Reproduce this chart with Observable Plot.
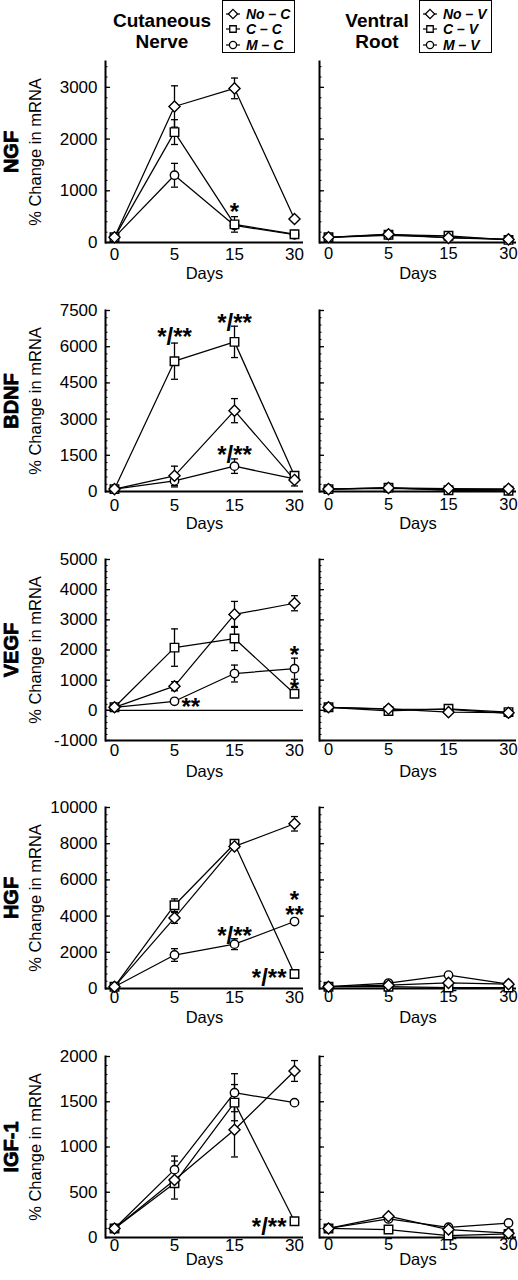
<!DOCTYPE html>
<html>
<head>
<meta charset="utf-8">
<script src="https://cdn.jsdelivr.net/npm/d3@7"></script>
<script src="https://cdn.jsdelivr.net/npm/@observablehq/plot@0.6"></script>
<style>
  html,body{margin:0;padding:0;background:#fff;}
  body{width:518px;height:1280px;overflow:hidden;font-family:"Liberation Sans",Arial,Helvetica,sans-serif;color:#000;}
  #fig{position:relative;width:518px;height:1280px;overflow:hidden;}
  .coltitle{position:absolute;top:10px;width:130px;text-align:center;font-weight:bold;font-size:19px;line-height:21px;}
  .legend{position:absolute;top:0;height:53px;width:73px;border:1.5px solid #000;box-sizing:border-box;background:#fff;}
  .legrow{position:absolute;left:2px;height:15px;display:flex;align-items:center;}
  .legrow span{font-weight:bold;font-style:italic;font-size:14px;margin-left:5px;white-space:pre;}
  .panel{position:absolute;}
  .panel svg{overflow:visible;display:block;}
</style>
</head>
<body>
<div id="fig"></div>
<script>
// ---------- text ----------
const days = [0, 5, 15, 30];
const genes = ["NGF", "BDNF", "VEGF", "HGF", "IGF-1"];
const columnTitles = [["Cutaneous", "Nerve"], ["Ventral", "Root"]];
const nerveSeries = ["No – C", "C – C", "M – C"];
const rootSeries = ["No – V", "C – V", "M – V"];
const yLabel = "% Change in mRNA";
const xLabel = "Days";

// ---------- y axes ----------
const ngfDomain = [0, 3500];
const ngfTicks = [0, 1000, 2000, 3000];
const bdnfDomain = [0, 7500];
const bdnfTicks = [0, 1500, 3000, 4500, 6000, 7500];
const vegfDomain = [-1000, 5000];
const vegfTicks = [-1000, 0, 1000, 2000, 3000, 4000, 5000];
const hgfDomain = [0, 10000];
const hgfTicks = [0, 2000, 4000, 6000, 8000, 10000];
const igfDomain = [0, 2000];
const igfTicks = [0, 500, 1000, 1500, 2000];

// ---------- NGF ----------
const ngfNoC = [100, 2630, 2980, 455];
const ngfNoCErr = [0, 400, 200, 0];
const ngfCC = [100, 2135, 350, 160];
const ngfCCErr = [0, 240, 150, 0];
const ngfMC = [100, 1300, 330, 150];
const ngfMCErr = [0, 230, 0, 0];
const ngfNoV = [100, 160, 90, 60];
const ngfCV = [100, 150, 130, 50];
const ngfMV = [100, 140, 100, 60];
const ngfStars = [{day: 15, value: 650, text: "*", side: "center"}];

// ---------- BDNF ----------
const bdnfNoC = [100, 650, 3350, 480];
const bdnfNoCErr = [0, 400, 500, 250];
const bdnfCC = [100, 5400, 6200, 650];
const bdnfCCErr = [0, 750, 650, 150];
const bdnfMC = [100, 440, 1050, 520];
const bdnfMCErr = [0, 250, 300, 0];
const bdnfNoV = [100, 150, 120, 110];
const bdnfCV = [100, 160, 50, 30];
const bdnfMV = [100, 130, 80, 80];
const bdnfStars = [
  {day: 5, value: 6530, text: "*/**", side: "center"},
  {day: 15, value: 7110, text: "*/**", side: "center"},
  {day: 15, value: 1640, text: "*/**", side: "center"}
];

// ---------- VEGF ----------
const vegfNoC = [100, 800, 3180, 3550];
const vegfNoCErr = [0, 150, 430, 250];
const vegfCC = [100, 2080, 2380, 550];
const vegfCCErr = [0, 620, 400, 100];
const vegfMC = [100, 300, 1220, 1380];
const vegfMCErr = [0, 0, 280, 350];
const vegfNoV = [100, 50, -60, -80];
const vegfCV = [100, -20, 50, -60];
const vegfMV = [100, 40, 30, -100];
const vegfStars = [
  {day: 5, value: 190, text: "**", side: "right"},
  {day: 30, value: 1910, text: "*", side: "center"},
  {day: 30, value: 800, text: "*", side: "center"}
];

// ---------- HGF ----------
const hgfNoC = [100, 3900, 7850, 9100];
const hgfNoCErr = [0, 300, 150, 400];
const hgfCC = [100, 4600, 8000, 800];
const hgfCCErr = [0, 350, 150, 0];
const hgfMC = [100, 1850, 2450, 3700];
const hgfMCErr = [0, 350, 300, 100];
const hgfNoV = [100, 180, 310, 240];
const hgfCV = [100, 100, 55, 55];
const hgfMV = [100, 300, 740, 240];
const hgfStars = [
  {day: 30, value: 4650, text: "*\n**", side: "center"},
  {day: 15, value: 3080, text: "*/**", side: "center"},
  {day: 30, value: 740, text: "*/**", side: "left"}
];

// ---------- IGF-1 ----------
const igfNoC = [100, 635, 1190, 1840];
const igfNoCErr = [0, 210, 300, 115];
const igfCC = [100, 600, 1490, 180];
const igfCCErr = [0, 0, 200, 0];
const igfMC = [100, 750, 1600, 1490];
const igfMCErr = [0, 150, 210, 0];
const igfNoV = [100, 235, 88, 48];
const igfCV = [100, 88, 22, 40];
const igfMV = [100, 205, 113, 160];
const igfStars = [{day: 30, value: 150, text: "*/**", side: "left"}];

// ---------- assemble ----------
const panels = [
  {gene: genes[0], domain: ngfDomain, ticks: ngfTicks, nerve: [ngfNoC, ngfCC, ngfMC], nerveErr: [ngfNoCErr, ngfCCErr, ngfMCErr], root: [ngfNoV, ngfCV, ngfMV], stars: ngfStars, zero: false},
  {gene: genes[1], domain: bdnfDomain, ticks: bdnfTicks, nerve: [bdnfNoC, bdnfCC, bdnfMC], nerveErr: [bdnfNoCErr, bdnfCCErr, bdnfMCErr], root: [bdnfNoV, bdnfCV, bdnfMV], stars: bdnfStars, zero: false},
  {gene: genes[2], domain: vegfDomain, ticks: vegfTicks, nerve: [vegfNoC, vegfCC, vegfMC], nerveErr: [vegfNoCErr, vegfCCErr, vegfMCErr], root: [vegfNoV, vegfCV, vegfMV], stars: vegfStars, zero: true},
  {gene: genes[3], domain: hgfDomain, ticks: hgfTicks, nerve: [hgfNoC, hgfCC, hgfMC], nerveErr: [hgfNoCErr, hgfCCErr, hgfMCErr], root: [hgfNoV, hgfCV, hgfMV], stars: hgfStars, zero: false},
  {gene: genes[4], domain: igfDomain, ticks: igfTicks, nerve: [igfNoC, igfCC, igfMC], nerveErr: [igfNoCErr, igfCCErr, igfMCErr], root: [igfNoV, igfCV, igfMV], stars: igfStars, zero: false}
];

// layout
const rowTop = [61, 309.5, 559, 807, 1055.5];
const plotH = 181, mt = 12, mb = 46;
const tickPad = [5, 7, 3, 2, 1];
const daysOff = [31.5, 32, 31.5, 29.5, 22.5];
const symbols = ["diamond2", "square", "circle"];
const symR = [5.0, 4.8, 4.2];
const capSymbol = {draw(ctx) { ctx.moveTo(-3.5, 0); ctx.lineTo(3.5, 0); }};

const fig = document.getElementById("fig");

function rowsOf(names, vals, errs) {
  const out = [];
  names.forEach((s, i) => vals[i].forEach((v, j) => out.push({series: s, idx: i, day: days[j], value: v, err: errs ? errs[i][j] : 0})));
  return out;
}

function minorTicks(domain, ticks) {
  const step = (ticks[1] - ticks[0]) / 5;
  const out = [];
  for (let v = domain[0]; v <= domain[1] + 1e-9; v += step) out.push(Math.round(v));
  return out;
}

function makePanel(p, r, side) {
  const isLeft = side === 0;
  const width = isLeft ? 305 : 213;
  const ml = isLeft ? 105 : 14;
  const mr = 2;
  const pw = width - ml - mr;
  const names = isLeft ? nerveSeries : rootSeries;
  const rows = rowsOf(names, isLeft ? p.nerve : p.root, isLeft ? p.nerveErr : null);
  const errRows = rows.filter(d => d.err > 0);
  const marks = [];

  // y ticks (inward)
  marks.push(Plot.tickY(minorTicks(p.domain, p.ticks), {y: d => d, insetRight: pw - 2.5, stroke: "black", strokeWidth: 1}));
  marks.push(Plot.tickY(p.ticks, {y: d => d, insetRight: pw - 5, stroke: "black", strokeWidth: 1.3}));
  if (isLeft) {
    marks.push(Plot.axisY({ticks: p.ticks, tickSize: 0, tickPadding: 8, fontSize: 17, label: null, tickFormat: d => String(d)}));
  } else {
    marks.push(Plot.axisY({ticks: [], label: null}));
  }
  marks.push(Plot.axisX({tickSize: 0, tickPadding: tickPad[r], fontSize: isLeft ? 17 : 16.5, label: null, tickFormat: d => String(d)}));
  marks.push(Plot.text([xLabel], {frameAnchor: "bottom", lineAnchor: "middle", dy: daysOff[r], fontSize: 16.5}));
  if (isLeft) {
    marks.push(Plot.text([yLabel], {frameAnchor: "left", textAnchor: "middle", lineAnchor: "middle", dx: -70, rotate: -90, fontSize: 16.5}));
    marks.push(Plot.text([p.gene], {frameAnchor: "left", textAnchor: "middle", lineAnchor: "middle", dx: -94, rotate: -90, fontSize: 20, fontWeight: "bold", fill: "black", stroke: "black", strokeWidth: 0.8}));
  }
  // axis lines
  marks.push(Plot.ruleY([p.domain[0]], {stroke: "black", strokeWidth: 2}));
  marks.push(Plot.frame({anchor: "left", stroke: "black", strokeWidth: 2}));
  if (p.zero && isLeft) marks.push(Plot.ruleY([0], {stroke: "black", strokeWidth: 1.4}));

  // series lines
  marks.push(Plot.line(rows, {x: "day", y: "value", z: "series", stroke: "black", strokeWidth: 1.25}));
  // error bars
  if (errRows.length) {
    marks.push(Plot.ruleX(errRows, {x: "day", y1: d => d.value - d.err, y2: d => d.value + d.err, stroke: "black", strokeWidth: 1.3}));
    marks.push(Plot.dot(errRows, {x: "day", y: d => d.value + d.err, symbol: capSymbol, fill: "none", stroke: "black", strokeWidth: 1.3}));
    marks.push(Plot.dot(errRows, {x: "day", y: d => d.value - d.err, symbol: capSymbol, fill: "none", stroke: "black", strokeWidth: 1.3}));
  }
  // markers (circle, square, diamond on top)
  for (const i of [2, 1, 0]) {
    marks.push(Plot.dot(rows.filter(d => d.idx === i), {x: "day", y: "value", symbol: symbols[i], r: symR[i], fill: "white", stroke: "black", strokeWidth: 1.4}));
  }
  // significance stars
  if (isLeft) {
    const sc = p.stars.filter(d => d.side === "center");
    const sr = p.stars.filter(d => d.side === "right");
    const sl = p.stars.filter(d => d.side === "left");
    const st = {x: "day", y: "value", text: "text", fontSize: 24, fontWeight: "bold", dy: 6, lineHeight: 0.62};
    if (sc.length) marks.push(Plot.text(sc, {...st, textAnchor: "middle"}));
    if (sr.length) marks.push(Plot.text(sr, {...st, textAnchor: "start", dx: 7}));
    if (sl.length) marks.push(Plot.text(sl, {...st, textAnchor: "end", dx: -8}));
  }

  const chart = Plot.plot({
    width, height: mt + plotH + mb,
    marginLeft: ml, marginRight: mr, marginTop: mt, marginBottom: mb,
    x: {type: "point", domain: days, padding: 0, insetLeft: 8, insetRight: 8},
    y: {domain: p.domain},
    style: {fontFamily: '"Liberation Sans", Arial, Helvetica, sans-serif', color: "black", background: "transparent", overflow: "visible"},
    marks
  });
  const div = document.createElement("div");
  div.className = "panel";
  div.style.left = (isLeft ? 0 : 305) + "px";
  div.style.top = (rowTop[r] - mt) + "px";
  div.appendChild(chart);
  fig.appendChild(div);
}

panels.forEach((p, r) => { makePanel(p, r, 0); makePanel(p, r, 1); });

// ---------- headers & legends ----------
const titleCenters = [162, 377];
const legendLefts = [222, 419];
function legendSymbol(i) {
  const s = d3.create("svg").attr("width", 16).attr("height", 14);
  s.append("line").attr("x1", 1).attr("x2", 15).attr("y1", 7).attr("y2", 7).attr("stroke", "black").attr("stroke-width", 1.2);
  const g = s.append("g").attr("transform", "translate(8,7)");
  const path = d3.symbol().type([d3.symbolDiamond2, d3.symbolSquare, d3.symbolCircle][i]).size([55, 42, 40][i]);
  g.append("path").attr("d", path()).attr("fill", "white").attr("stroke", "black").attr("stroke-width", 1.3);
  return s.node();
}
columnTitles.forEach((t, c) => {
  const d = document.createElement("div");
  d.className = "coltitle";
  d.style.left = (titleCenters[c] - 65) + "px";
  d.innerHTML = t.join("<br>");
  fig.appendChild(d);
  const lg = document.createElement("div");
  lg.className = "legend";
  lg.style.left = legendLefts[c] + "px";
  (c === 0 ? nerveSeries : rootSeries).forEach((name, i) => {
    const row = document.createElement("div");
    row.className = "legrow";
    row.style.top = (5 + i * 15.5) + "px";
    row.appendChild(legendSymbol(i));
    const sp = document.createElement("span");
    sp.textContent = name;
    row.appendChild(sp);
    lg.appendChild(row);
  });
  fig.appendChild(lg);
});
</script>
</body>
</html>
